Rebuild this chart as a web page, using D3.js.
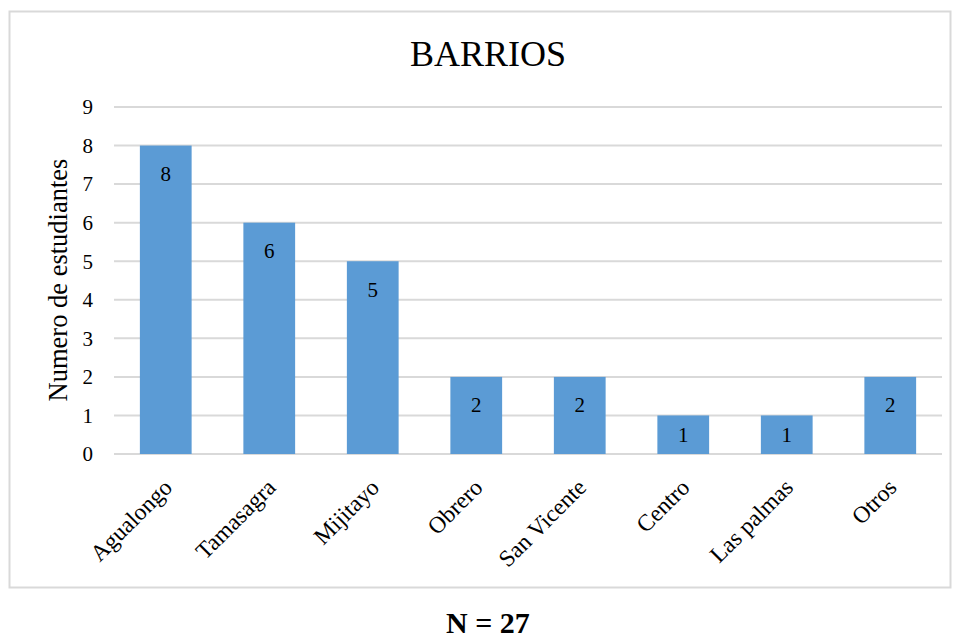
<!DOCTYPE html>
<html>
<head>
<meta charset="utf-8">
<script src="https://cdn.jsdelivr.net/npm/d3@7"></script>
<style>
  body { margin: 0; background: #fff; }
  text { font-family: "Liberation Serif", "Times New Roman", serif; fill: #000; }
</style>
</head>
<body>
<svg id="chart"></svg>
<script>
var barrios = ['Agualongo', 'Tamasagra', 'Mijitayo', 'Obrero', 'San Vicente', 'Centro', 'Las palmas', 'Otros'];
var estudiantes = [8, 6, 5, 2, 2, 1, 1, 2];
var yTicks = [0, 1, 2, 3, 4, 5, 6, 7, 8, 9];

var width = 959;
var height = 638;

var svg = d3.select('#chart').attr('width', width).attr('height', height);

// chart frame
svg.append('rect')
  .attr('x', 9.5).attr('y', 11.5)
  .attr('width', 941).attr('height', 576)
  .attr('fill', 'none')
  .attr('stroke', '#d9d9d9')
  .attr('stroke-width', 2);

var x = d3.scaleBand()
  .domain(barrios)
  .range([114, 942])
  .paddingInner(0.5)
  .paddingOuter(0.25);

var y = d3.scaleLinear()
  .domain([0, 9])
  .range([454, 107]);

// gridlines
svg.append('g')
  .selectAll('line')
  .data(yTicks)
  .enter()
  .append('line')
  .attr('x1', 114).attr('x2', 942)
  .attr('y1', function(d) { return y(d); })
  .attr('y2', function(d) { return y(d); })
  .attr('stroke', '#d9d9d9')
  .attr('stroke-width', 2);

// y tick labels
svg.append('g')
  .selectAll('text')
  .data(yTicks)
  .enter()
  .append('text')
  .attr('x', 93)
  .attr('y', function(d) { return y(d); })
  .attr('dy', '0.35em')
  .attr('text-anchor', 'end')
  .style('font-size', '21px')
  .text(function(d) { return d; });

// bars
svg.append('g')
  .selectAll('rect')
  .data(estudiantes)
  .enter()
  .append('rect')
  .attr('x', function(d, i) { return x(barrios[i]); })
  .attr('y', function(d) { return y(d); })
  .attr('width', x.bandwidth())
  .attr('height', function(d) { return y(0) - y(d); })
  .attr('fill', '#5b9bd5');

// value labels (inside end, centered when bar is short)
svg.append('g')
  .selectAll('text')
  .data(estudiantes)
  .enter()
  .append('text')
  .attr('x', function(d, i) { return x(barrios[i]) + x.bandwidth() / 2; })
  .attr('y', function(d) { return Math.min(y(d) + 28, (y(d) + y(0)) / 2); })
  .attr('dy', '0.35em')
  .attr('text-anchor', 'middle')
  .style('font-size', '21px')
  .text(function(d) { return d; });

// x labels rotated
svg.append('g')
  .selectAll('text')
  .data(barrios)
  .enter()
  .append('text')
  .attr('transform', function(d) {
    return 'translate(' + (x(d) + x.bandwidth() / 2 + 2) + ',' + 483 + ') rotate(-45)';
  })
  .attr('text-anchor', 'end')
  .attr('dy', '0.35em')
  .style('font-size', '23.5px')
  .text(function(d) { return d; });

// title
svg.append('text')
  .attr('x', 488).attr('y', 66)
  .attr('text-anchor', 'middle')
  .style('font-size', '36px')
  .text('BARRIOS');

// y axis title
svg.append('text')
  .attr('transform', 'translate(67,280) rotate(-90)')
  .attr('text-anchor', 'middle')
  .style('font-size', '26.5px')
  .text('Numero de estudiantes');

// footer
svg.append('text')
  .attr('x', 488).attr('y', 633)
  .attr('text-anchor', 'middle')
  .style('font-size', '30px')
  .style('font-weight', 'bold')
  .text('N = 27');
</script>
</body>
</html>
